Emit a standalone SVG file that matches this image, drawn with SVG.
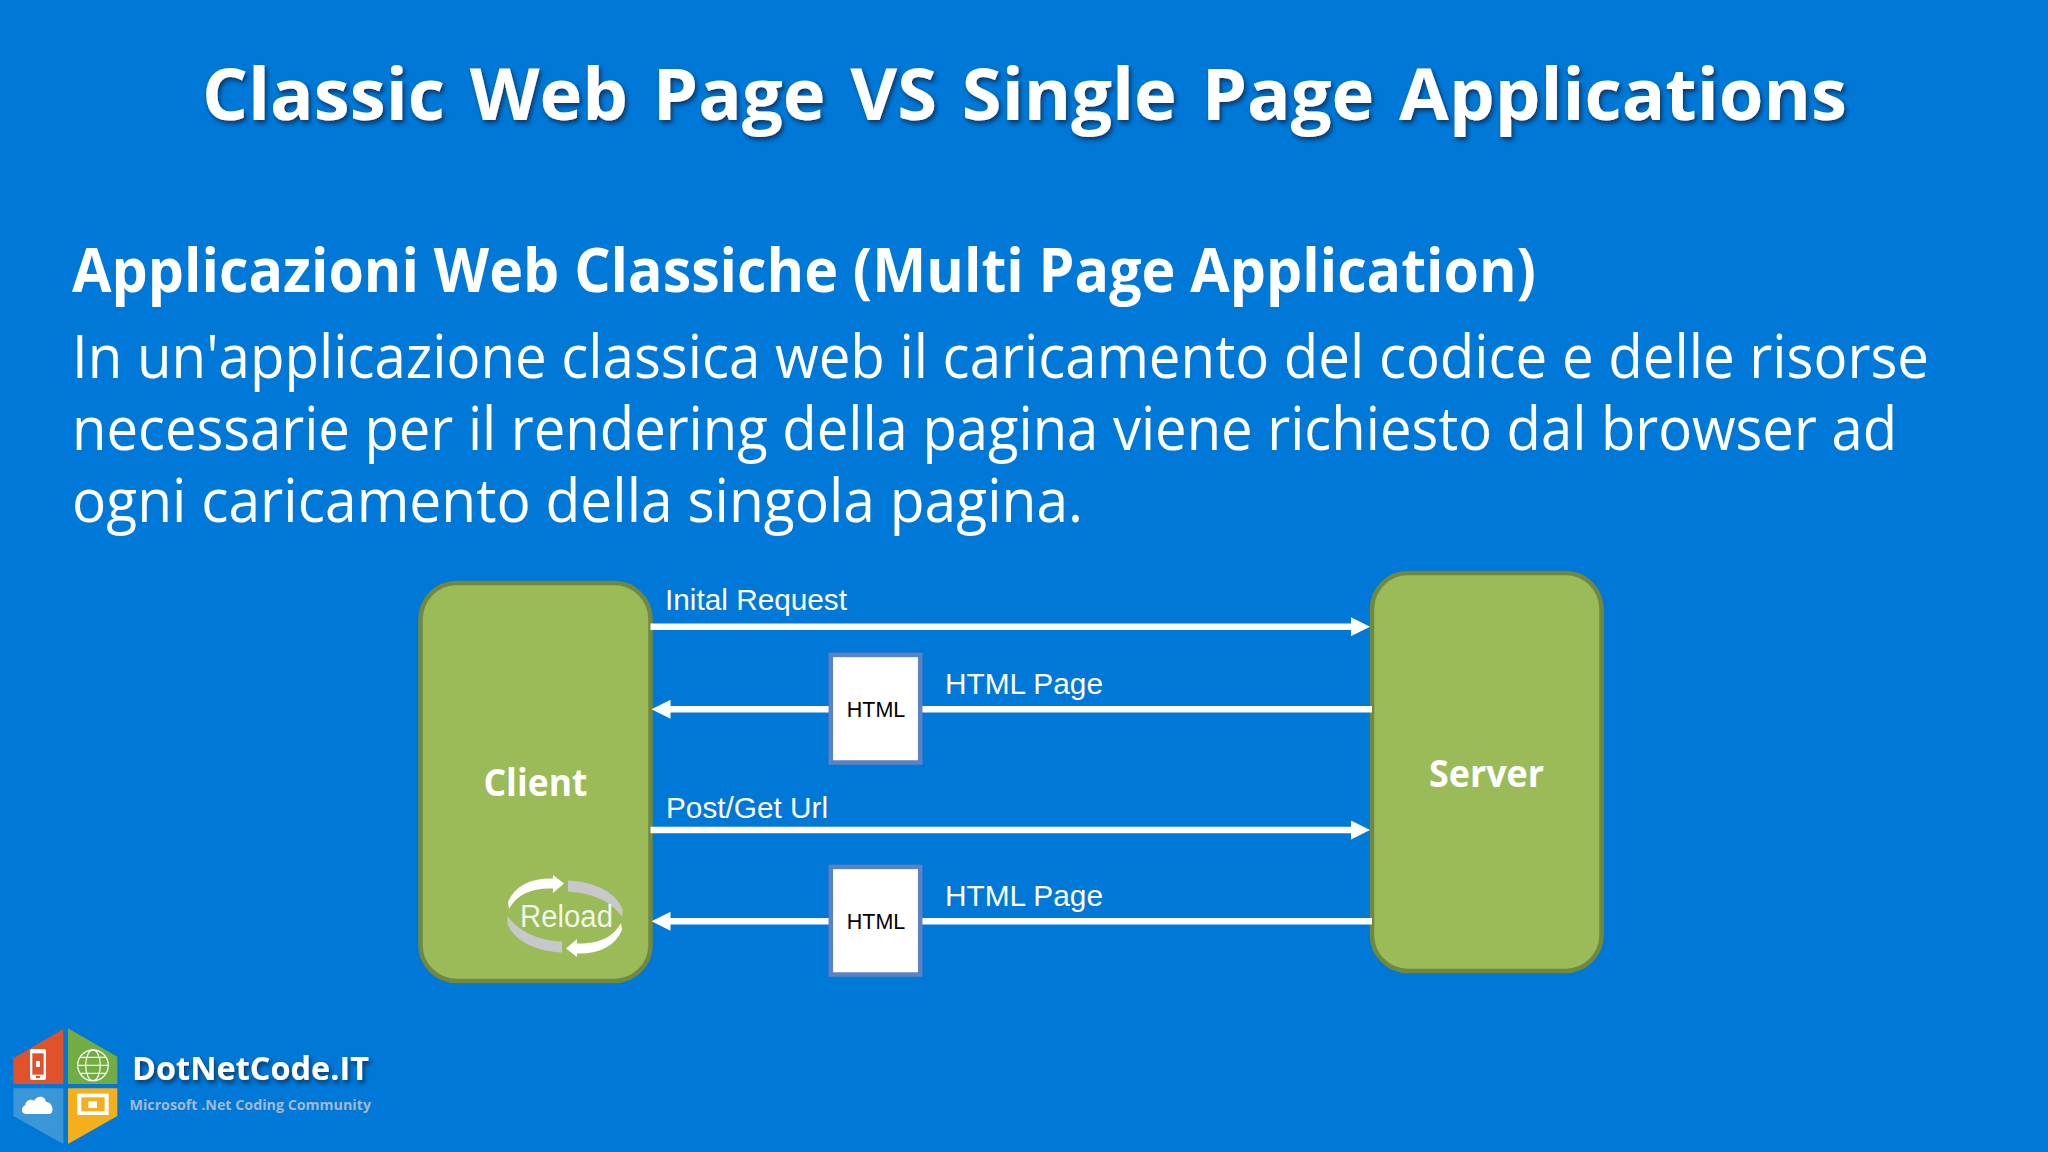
<svg xmlns="http://www.w3.org/2000/svg" width="2048" height="1152" viewBox="0 0 2048 1152">
<style>
.t{font-family:"Open Sans","Noto Sans","Liberation Sans",sans-serif;fill:#fff}
.b{font-weight:700}
.l{font-family:"Liberation Sans",Arial,sans-serif;font-size:29px;fill:#fff}
.h{font-family:"Liberation Sans",Arial,sans-serif;font-size:21.5px;fill:#000;text-anchor:middle}
.node{fill:#9bbb59;stroke:#71893f;stroke-width:4.5}
.doc{fill:#fff;stroke:#5b82c4;stroke-width:4.5}
.c{stroke:#fff;stroke-width:6.5;fill:none}
</style>
<defs>
<filter id="s" x="-5%" y="-20%" width="110%" height="140%"><feDropShadow dx="2" dy="3" stdDeviation="2" flood-color="#08284a" flood-opacity=".8"/></filter>
<marker id="a" viewBox="0 0 19 19" refX="9" refY="9.5" markerUnits="userSpaceOnUse" markerWidth="19" markerHeight="19" orient="auto"><path d="M0 0L19 9.5L0 19z" fill="#fff"/></marker>
</defs>
<rect width="2048" height="1152" fill="#0078d7"/>
<text class="t b" x="202" y="120" font-size="72" word-spacing="6" textLength="1645" lengthAdjust="spacingAndGlyphs" filter="url(#s)">Classic Web Page VS Single Page Applications</text>
<text class="t b" x="72" y="292" font-size="60" textLength="1464" lengthAdjust="spacingAndGlyphs">Applicazioni Web Classiche (Multi Page Application)</text>
<text class="t" x="72" y="378" font-size="60" textLength="1857" lengthAdjust="spacingAndGlyphs">In un'applicazione classica web il caricamento del codice e delle risorse</text>
<text class="t" x="72" y="450" font-size="60" textLength="1825" lengthAdjust="spacingAndGlyphs">necessarie per il rendering della pagina viene richiesto dal browser ad</text>
<text class="t" x="72" y="522" font-size="60" textLength="1011" lengthAdjust="spacingAndGlyphs">ogni caricamento della singola pagina.</text>
<g id="client">
<rect class="node" x="420.5" y="583" width="230" height="398" rx="36" ry="36"/>
<text class="t b" x="535.5" y="796" font-size="37" text-anchor="middle" textLength="104" lengthAdjust="spacingAndGlyphs">Client</text>
</g>
<g id="server">
<rect class="node" x="1372" y="573" width="229.5" height="398" rx="36" ry="36"/>
<text class="t b" x="1486.5" y="787" font-size="37" text-anchor="middle" textLength="115" lengthAdjust="spacingAndGlyphs">Server</text>
</g>
<g id="connectors">
<path class="c" d="M650.5 626.7H1360" marker-end="url(#a)"/>
<path class="c" d="M1372 709.3H661.5" marker-end="url(#a)"/>
<path class="c" d="M650.5 830H1360" marker-end="url(#a)"/>
<path class="c" d="M1372 921.3H661.5" marker-end="url(#a)"/>
<text class="l" x="665" y="609.5" textLength="182" lengthAdjust="spacingAndGlyphs">Inital Request</text>
<text class="l" x="945" y="693.5" textLength="158" lengthAdjust="spacingAndGlyphs">HTML Page</text>
<text class="l" x="666" y="818" textLength="162" lengthAdjust="spacingAndGlyphs">Post/Get Url</text>
<text class="l" x="945" y="905.5" textLength="158" lengthAdjust="spacingAndGlyphs">HTML Page</text>
</g>
<g id="reload">
<path d="M508 902C515 886 530 878 553 878.5L553 875L564 883.5L553 893L553 888.5C530 888 517 895 509 909Z" fill="#fff"/>
<path d="M508 902C515 886 530 878 553 878.5L553 875L564 883.5L553 893L553 888.5C530 888 517 895 509 909Z" fill="#fff" transform="rotate(180 565 916)"/>
<path d="M568 880.5C596 882 616 893 622.5 909L622.5 917C612 903 595 893 568 891.5Z" fill="#c6c8ca"/>
<path d="M568 880.5C596 882 616 893 622.5 909L622.5 917C612 903 595 893 568 891.5Z" fill="#c6c8ca" transform="rotate(180 565 916.5)"/>
<text x="566.5" y="926.5" font-family="Liberation Sans,Arial,sans-serif" font-size="31" fill="#fff" fill-opacity=".88" text-anchor="middle" textLength="93" lengthAdjust="spacingAndGlyphs">Reload</text>
</g>
<g id="doc1">
<rect class="doc" x="830.8" y="654.9" width="89.4" height="107.6"/>
<text class="h" x="876" y="717">HTML</text>
</g>
<g id="doc2">
<rect class="doc" x="830.8" y="866.9" width="89.4" height="107.6"/>
<text class="h" x="876" y="929">HTML</text>
</g>
<g id="logo" transform="translate(0 1010) scale(.3333)">
<path d="M40 145L190 57V222H40Z" fill="#e0522b"/>
<path d="M204 55L352 140V222H204Z" fill="#72ad43"/>
<path d="M40 235H190V402L40 318Z" fill="#3a96d6"/>
<path d="M204 235H352V318L204 402Z" fill="#f3b01c"/>
<g fill="#fff">
<rect x="90" y="117" width="48" height="93" rx="6"/>
<rect x="97" y="130" width="34" height="64" fill="#e0522b"/>
<rect x="108" y="153" width="12" height="18"/>
<rect x="108" y="198" width="12" height="6" fill="#e0522b"/>
</g>
<g fill="none" stroke="#fff" stroke-width="4" stroke-opacity=".9">
<circle cx="279" cy="166" r="46"/>
<ellipse cx="279" cy="166" rx="22" ry="46"/>
<path d="M233 166H325M240 142H318M240 190H318"/>
</g>
<path d="M78 312C62 312 62 290 76 286C76 272 92 265 102 272C112 254 136 258 138 276C158 274 166 312 146 312Z" fill="#fff"/>
<rect x="232" y="251" width="94" height="64" fill="#fff"/>
<rect x="244" y="262" width="70" height="42" fill="#f3b01c"/>
<rect x="265" y="274" width="26" height="20" fill="#fff"/>
</g>
<text class="t b" x="132" y="1080" font-size="33" textLength="237" lengthAdjust="spacingAndGlyphs" filter="url(#s)">DotNetCode.IT</text>
<text class="t b" x="129.5" y="1110" font-size="15" style="fill:#a3b9cf" textLength="241.5" lengthAdjust="spacingAndGlyphs">Microsoft .Net Coding Community</text>
</svg>
